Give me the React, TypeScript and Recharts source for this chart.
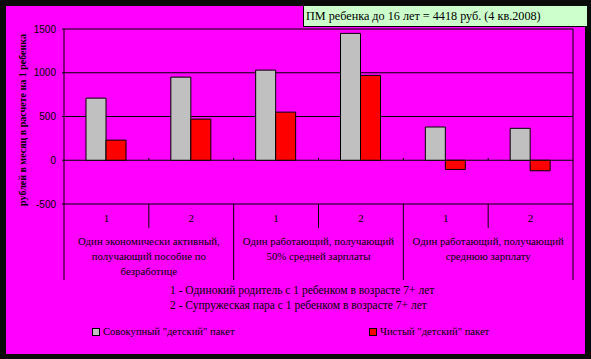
import React from "react";
import { BarChart, Bar, XAxis, YAxis, CartesianGrid, Legend, Label } from "recharts";

const subCats = ["1", "2", "1", "2", "1", "2"];
const groupLabels = [
  ["Один экономически активный,", "получающий пособие по", "безработице"],
  ["Один работающий, получающий", "50% средней зарплаты"],
  ["Один работающий, получающий", "среднюю зарплату"],
];
const totalPack = [710, 950, 1030, 1450, 380, 365];
const netPack = [230, 470, 550, 970, -105, -120];
const yTicks = [-500, 0, 500, 1000, 1500];
const seriesNames = ['Совокупный "детский" пакет', 'Чистый "детский" пакет'];
const notes = [
  "1 - Одинокий родитель с 1 ребенком в возрасте 7+ лет",
  "2 - Супружеская пара с 1 ребенком в возрасте 7+ лет",
];
const titleText = "ПМ ребенка до 16 лет = 4418 руб. (4 кв.2008)";
const yTitle = "рублей в месяц в расчете на 1 ребенка";

const data = subCats.map((s, i) => ({
  key: String(i),
  total: totalPack[i],
  net: netPack[i],
}));

const W = 591;
const H = 359;
const LEGEND_H = 16;
// legend height is added to the bottom offset by recharts, so take it off the margin
const M = { top: 29, right: 18, bottom: 79 - LEGEND_H, left: 0 };
const Y_W = 64;
const PLOT_W = W - M.left - M.right - Y_W;
const PLOT_TOP = M.top;
const PLOT_BOTTOM = 204;
const ZERO_Y = 160;
const AXIS_END = 280;
const serif = '"Liberation Serif", "Times New Roman", serif';

const CatTick = (props: any) => {
  const { x, index } = props;
  const band = PLOT_W / subCats.length;
  const left = x - band / 2;
  const right = x + band / 2;
  const isGroupStart = index % 2 === 0;
  const gi = Math.floor(index / 2);
  return (
    <g>
      <text x={x} y={222} textAnchor="middle" fontFamily={serif} fontSize={11} fill="#000">
        {subCats[index]}
      </text>
      <line x1={left} x2={left} y1={PLOT_BOTTOM} y2={isGroupStart ? AXIS_END : 228} stroke="#000" />
      {index > 0 && <line x1={left} x2={left} y1={ZERO_Y - 2} y2={ZERO_Y} stroke="#000" />}
      {index === subCats.length - 1 && (
        <line x1={right} x2={right} y1={PLOT_TOP} y2={AXIS_END} stroke="#000" />
      )}
      {!isGroupStart && (
        <text x={left} textAnchor="middle" fontFamily={serif} fontSize={10.8} fill="#000">
          {groupLabels[gi].map((l, k) => (
            <tspan key={k} x={left} y={245 + k * 15}>
              {l}
            </tspan>
          ))}
        </text>
      )}
    </g>
  );
};

const LegendContent = (props: any) => {
  const items = props.payload || [];
  const pos = [92, 369];
  return (
    <div style={{ position: "relative", width: W, height: LEGEND_H }}>
      {items.map((it: any, i: number) => (
        <div
          key={i}
          style={{ position: "absolute", left: pos[i], top: 0, display: "flex", alignItems: "center", whiteSpace: "nowrap" }}
        >
          <span
            style={{ width: 6, height: 6, background: it.color, border: "1px solid #000", display: "inline-block", marginRight: 3 }}
          />
          <span style={{ fontFamily: serif, fontSize: 10.6, color: "#000" }}>{it.value}</span>
        </div>
      ))}
    </div>
  );
};

export default function App() {
  return (
    <div style={{ position: "relative", width: W, height: H, background: "#0a0a0a" }}>
      <style>{"body{margin:0}"}</style>
      <div style={{ position: "absolute", left: 6, top: 6, width: 579, height: 348, background: "#ff00ff" }} />
      <div
        style={{
          position: "absolute",
          left: 303,
          top: 6,
          width: 281,
          height: 20,
          background: "#ccffcc",
          borderLeft: "1px solid #000",
          borderBottom: "1px solid #000",
          fontFamily: serif,
          fontSize: 12.2,
          lineHeight: "20px",
          paddingLeft: 2,
          boxSizing: "content-box",
          whiteSpace: "nowrap",
        }}
      >
        {titleText}
      </div>
      <div style={{ position: "absolute", left: 0, top: 0 }}>
        <BarChart width={W} height={H} data={data} margin={M} barGap={0} barSize={20}>
          <CartesianGrid vertical={false} stroke="#000" strokeOpacity={1} />
          <XAxis
            dataKey="key"
            axisLine={false}
            tickLine={false}
            interval={0}
            height={76}
            tick={<CatTick />}
          />
          <YAxis
            width={Y_W}
            domain={[-500, 1500]}
            ticks={yTicks}
            interval={0}
            axisLine={{ stroke: "#000" }}
            tickLine={{ stroke: "#000" }}
            tickSize={2}
            tickMargin={6}
            tick={{ fill: "#000", fontSize: 10, fontFamily: '"Liberation Sans", Arial, sans-serif' }}
          >
            <Label
              content={() => (
                <text
                  x={0}
                  y={0}
                  transform="translate(26,120) rotate(-90)"
                  textAnchor="middle"
                  fontFamily={serif}
                  fontWeight="bold"
                  fontSize={10}
                  fill="#000"
                >
                  {yTitle}
                </text>
              )}
            />
          </YAxis>
          <Legend
            verticalAlign="bottom"
            height={LEGEND_H}
            wrapperStyle={{ position: "absolute", left: 0, top: 326, width: W, height: LEGEND_H }}
            content={<LegendContent />}
          />
          <Bar dataKey="total" name={seriesNames[0]} fill="#c0c0c0" stroke="#000" strokeWidth={1} isAnimationActive={false} />
          <Bar dataKey="net" name={seriesNames[1]} fill="#ff0000" stroke="#000" strokeWidth={1} isAnimationActive={false} />
        </BarChart>
      </div>
      <div
        style={{
          position: "absolute",
          left: 170,
          top: 283,
          fontFamily: serif,
          fontSize: 11.5,
          lineHeight: "15px",
          color: "#000",
          whiteSpace: "nowrap",
        }}
      >
        {notes.map((n, i) => (
          <div key={i}>{n}</div>
        ))}
      </div>
    </div>
  );
}
